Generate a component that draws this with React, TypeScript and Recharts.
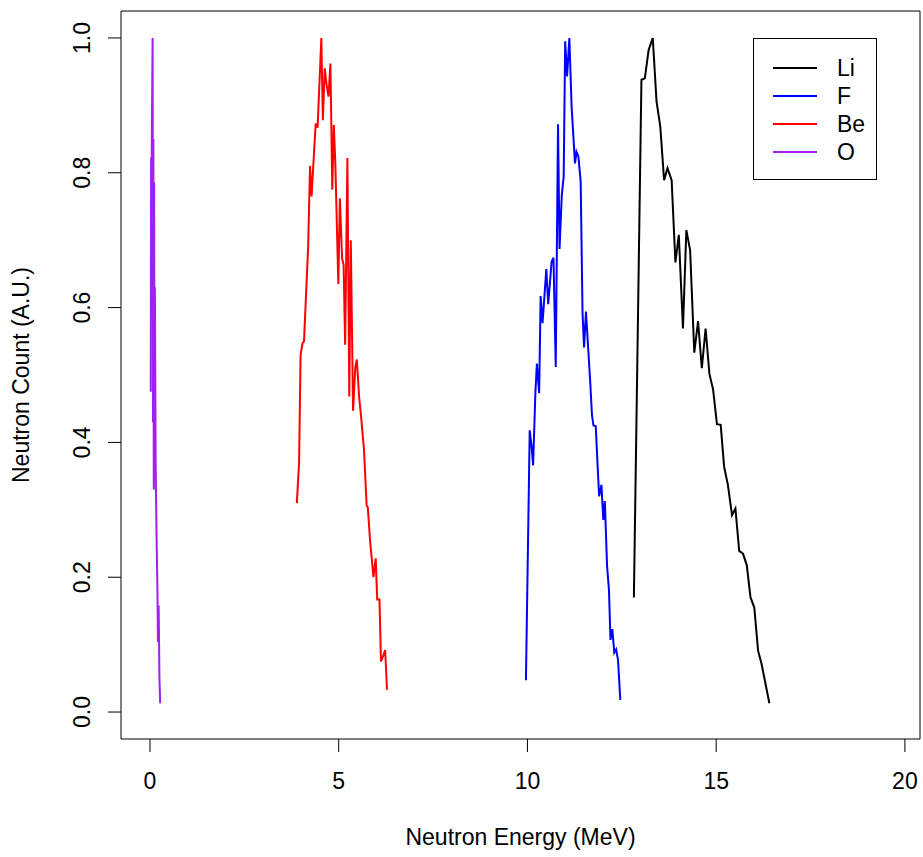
import React from 'react';
import {
  LineChart,
  Line,
  XAxis,
  YAxis,
  ReferenceArea
} from 'recharts';

// Li
const liEnergy = [12.82, 13.02, 13.11, 13.21, 13.32, 13.42, 13.52, 13.62, 13.71, 13.82, 13.92, 14.01, 14.12, 14.21, 14.31, 14.42, 14.52, 14.62, 14.72, 14.82, 14.92, 15.02, 15.12, 15.21, 15.31, 15.42, 15.51, 15.61, 15.71, 15.81, 15.91, 16.01, 16.11, 16.2, 16.41];
const liCount = [0.17, 0.938, 0.94, 0.982, 1.0, 0.906, 0.868, 0.789, 0.807, 0.789, 0.667, 0.708, 0.569, 0.715, 0.685, 0.533, 0.58, 0.51, 0.569, 0.502, 0.478, 0.427, 0.426, 0.364, 0.337, 0.292, 0.302, 0.239, 0.235, 0.218, 0.17, 0.155, 0.091, 0.072, 0.013];

// F
const fEnergy = [9.96, 10.06, 10.11, 10.15, 10.21, 10.25, 10.31, 10.35, 10.4, 10.5, 10.55, 10.64, 10.69, 10.75, 10.81, 10.85, 10.91, 10.96, 11.0, 11.05, 11.11, 11.17, 11.26, 11.3, 11.35, 11.41, 11.46, 11.5, 11.55, 11.66, 11.71, 11.75, 11.81, 11.86, 11.9, 11.96, 12.01, 12.05, 12.11, 12.16, 12.2, 12.25, 12.3, 12.35, 12.4, 12.46];
const fCount = [0.047, 0.418, 0.394, 0.366, 0.473, 0.517, 0.473, 0.617, 0.577, 0.657, 0.605, 0.668, 0.674, 0.512, 0.872, 0.687, 0.767, 0.794, 0.995, 0.943, 1.0, 0.898, 0.814, 0.831, 0.824, 0.787, 0.591, 0.541, 0.594, 0.493, 0.44, 0.425, 0.424, 0.364, 0.32, 0.337, 0.285, 0.313, 0.216, 0.181, 0.107, 0.123, 0.088, 0.093, 0.077, 0.018];

// Be
const beEnergy = [3.89, 3.95, 3.99, 4.04, 4.08, 4.19, 4.24, 4.28, 4.39, 4.44, 4.54, 4.58, 4.63, 4.68, 4.73, 4.78, 4.83, 4.87, 4.91, 4.99, 5.03, 5.09, 5.13, 5.17, 5.23, 5.28, 5.32, 5.38, 5.44, 5.48, 5.54, 5.59, 5.67, 5.74, 5.77, 5.83, 5.92, 5.98, 6.02, 6.08, 6.12, 6.17, 6.23, 6.28];
const beCount = [0.31, 0.37, 0.53, 0.547, 0.55, 0.69, 0.81, 0.765, 0.873, 0.867, 1.0, 0.878, 0.955, 0.93, 0.913, 0.962, 0.775, 0.871, 0.814, 0.635, 0.762, 0.673, 0.663, 0.545, 0.822, 0.468, 0.7, 0.447, 0.512, 0.523, 0.468, 0.44, 0.389, 0.306, 0.304, 0.255, 0.2, 0.228, 0.167, 0.167, 0.075, 0.082, 0.092, 0.033];

// O
const oEnergy = [0.02, 0.03, 0.04, 0.05, 0.07, 0.08, 0.09, 0.1, 0.11, 0.12, 0.13, 0.15, 0.16, 0.18, 0.2, 0.21, 0.23, 0.25, 0.27];
const oCount = [0.475, 0.823, 0.74, 0.863, 1.0, 0.43, 0.85, 0.33, 0.786, 0.425, 0.63, 0.37, 0.32, 0.24, 0.17, 0.104, 0.158, 0.051, 0.013];

const xTicks = [0, 5, 10, 15, 20];
const yTicks = [0, 0.2, 0.4, 0.6, 0.8, 1.0];

const xDomain: [number, number] = [-0.768, 20.4];
const yDomain: [number, number] = [-0.04, 1.04];

const toPoints = (xs: number[], ys: number[]) =>
  xs.map((x, i) => ({ energy: x, count: ys[i] }));

const series = [
  { name: 'Li', color: '#000000', data: toPoints(liEnergy, liCount) },
  { name: 'F', color: '#0000ff', data: toPoints(fEnergy, fCount) },
  { name: 'Be', color: '#ff0000', data: toPoints(beEnergy, beCount) },
  { name: 'O', color: '#a020f0', data: toPoints(oEnergy, oCount) }
];

const FONT = '"Liberation Sans", Arial, sans-serif';
const FS = 23;

const YTick = (props: any) => {
  const { x, y, payload } = props;
  return (
    <text
      x={x - 7}
      y={y}
      transform={`rotate(-90 ${x - 7} ${y})`}
      textAnchor="middle"
      fontSize={FS}
      fontFamily={FONT}
      fill="#000"
    >
      {payload.value.toFixed(1)}
    </text>
  );
};

const LegendBox = () => (
  <div
    style={{
      position: 'absolute',
      left: 753,
      top: 38,
      width: 122,
      border: '1px solid #000',
      background: '#fff',
      padding: '15px 0 13px 0',
      fontFamily: FONT,
      fontSize: FS
    }}
  >
    {series.map((s) => (
      <div key={s.name} style={{ display: 'flex', alignItems: 'center', height: 28 }}>
        <div style={{ width: 44, height: 2, background: s.color, marginLeft: 19, marginRight: 20 }} />
        <span>{s.name}</span>
      </div>
    ))}
  </div>
);

export default function App() {
  return (
    <div style={{ position: 'absolute', left: 0, top: 0, width: 923, height: 857, background: '#fff' }}>
      <LineChart width={923} height={857} margin={{ top: 11, right: 3, bottom: 0, left: 0 }}>
        <XAxis
          type="number"
          dataKey="energy"
          domain={xDomain}
          allowDataOverflow
          ticks={xTicks}
          height={118}
          tickSize={13}
          tickMargin={21}
          axisLine={false}
          tickLine={{ stroke: '#000' }}
          tick={{ fontSize: FS, fontFamily: FONT, fill: '#000' }}
          label={{
            value: 'Neutron Energy (MeV)',
            position: 'insideBottom',
            offset: 12,
            style: { fontSize: FS, fontFamily: FONT, fill: '#000' }
          }}
        />
        <YAxis
          type="number"
          dataKey="count"
          domain={yDomain}
          allowDataOverflow
          ticks={yTicks}
          width={121}
          tickSize={13}
          tickMargin={11}
          axisLine={false}
          tickLine={{ stroke: '#000' }}
          tick={<YTick />}
          label={{
            value: 'Neutron Count (A.U.)',
            angle: -90,
            position: 'insideLeft',
            offset: 21,
            style: { textAnchor: 'middle', fontSize: FS, fontFamily: FONT, fill: '#000' }
          }}
        />
        <ReferenceArea
          x1={xDomain[0]}
          x2={xDomain[1]}
          y1={yDomain[0]}
          y2={yDomain[1]}
          fill="none"
          stroke="#000"
          strokeWidth={1}
          ifOverflow="visible"
        />
        {series.map((s) => (
          <Line
            key={s.name}
            data={s.data}
            dataKey="count"
            name={s.name}
            type="linear"
            stroke={s.color}
            strokeWidth={2}
            dot={false}
            isAnimationActive={false}
          />
        ))}
      </LineChart>
      <LegendBox />
    </div>
  );
}
